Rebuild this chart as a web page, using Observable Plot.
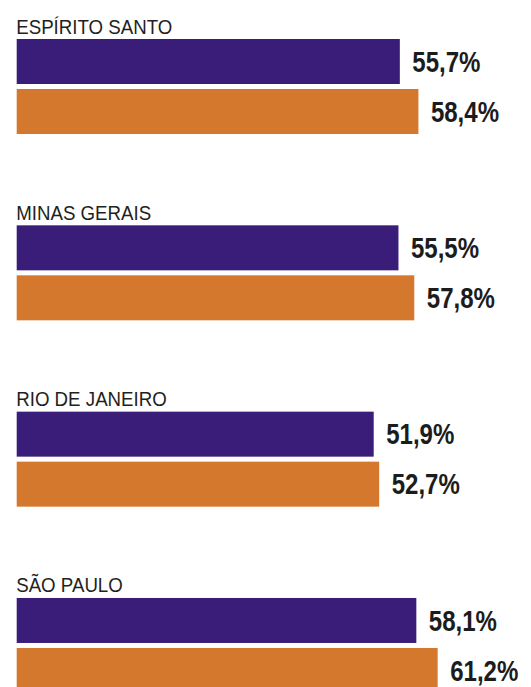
<!DOCTYPE html>
<html><head><meta charset="utf-8">
<script src="https://cdn.jsdelivr.net/npm/d3@7"></script>
<script src="https://cdn.jsdelivr.net/npm/@observablehq/plot@0.6"></script>
<style>html,body{margin:0;padding:0;background:#fff;}</style>
</head><body><div id="chart"></div>
<script>
const states = ["ESPÍRITO SANTO", "MINAS GERAIS", "RIO DE JANEIRO", "SÃO PAULO"];
const seriesKeys = ["a", "b"];
const valuesA = [55.7, 55.5, 51.9, 58.1];
const valuesB = [58.4, 57.8, 52.7, 61.2];
const colors = ["#3a1d78", "#d4782e"];

const rows = states.flatMap((s, i) => [
  {state: s, series: "a", value: valuesA[i]},
  {state: s, series: "b", value: valuesB[i]}
]);
const fmt = v => v.toFixed(1).replace(".", ",") + "%";
const FONT = "'Liberation Sans', Arial, sans-serif";

const chart = Plot.plot({
  width: 531, height: 687, margin: 0,
  style: {background: "#fff", overflow: "hidden"},
  facet: {data: rows, y: "state"},
  fy: {domain: states, range: [0, 693], paddingInner: 0.2807, paddingOuter: 0, round: false, axis: null, label: null},
  x: {domain: [0, 70], range: [16.7, 498.2], axis: null},
  y: {domain: seriesKeys, range: [39, 134], paddingInner: 0.1, paddingOuter: 0, round: false, axis: null},
  color: {domain: seriesKeys, range: colors},
  marks: [
    Plot.barX(rows, {x: "value", y: "series", fill: "series"}),
    Plot.text(rows, {x: "value", y: "series", text: d => fmt(d.value), dx: 12, textAnchor: "start", lineAnchor: "middle",
      fontSize: 30, fontWeight: "bold", fontFamily: FONT, fill: "#1c1c1c"}),
    Plot.text(rows, {filter: d => d.series === "a", x: 0, y: "series", text: "state", dx: -1, dy: -28.5,
      textAnchor: "start", lineAnchor: "bottom", fontSize: 21, fontWeight: "normal",
      fontFamily: FONT, fill: "#231f20"})
  ]
});
document.getElementById("chart").appendChild(chart);
// condense glyphs horizontally (narrow typeface look)
chart.querySelectorAll("g[aria-label='text'] text").forEach(t => {
  const fs = parseFloat(getComputedStyle(t).fontSize);
  const k = fs > 25 ? 0.80 : 0.89;
  const w = t.getComputedTextLength();
  t.setAttribute("textLength", (w * k).toFixed(1));
  t.setAttribute("lengthAdjust", "spacingAndGlyphs");
});
</script>
</body></html>
